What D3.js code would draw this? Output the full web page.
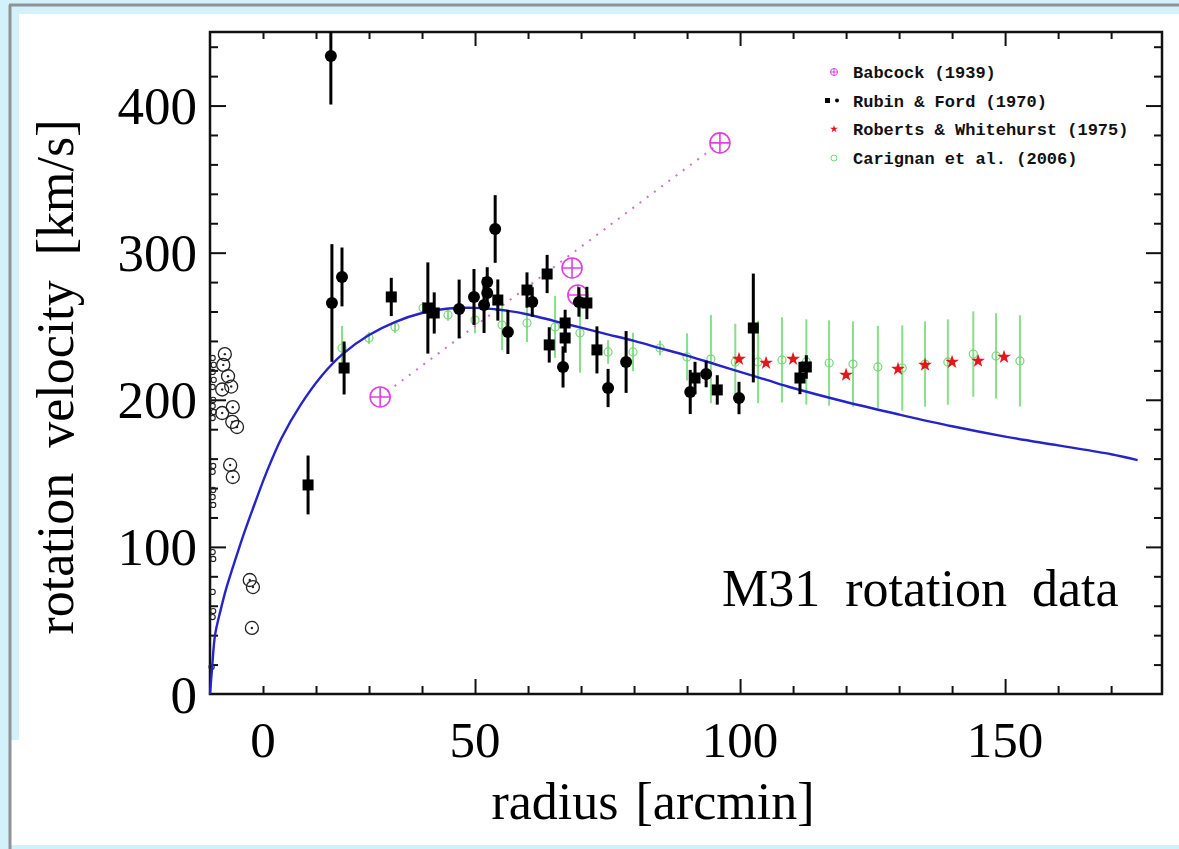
<!DOCTYPE html>
<html>
<head>
<meta charset="utf-8">
<script src="https://cdn.jsdelivr.net/npm/d3@7"></script>
<style>
  body { margin: 0; background: #d3f1fb; }
  svg { display: block; }
  .big { font-family: "Liberation Serif", "Times New Roman", serif; fill: #000; }
  .legend text { font-family: "Liberation Mono", "Courier New", monospace; font-weight: bold; font-size: 17px; fill: #111; }
</style>
</head>
<body>
<div id="chart"></div>
<script>
// radius [arcmin], velocity [km/s]
const babcock = [[32.1, 201.9], [68.3, 289.6], [69.4, 271.2], [96.2, 374.6]];

// Rubin & Ford (1970): [r, v, err]
const rubinCircles = [
  [22.8, 433.7, 33], [23.0, 265.8, 40], [24.9, 283.5, 20], [47.0, 261.7, 20],
  [49.8, 269.9, 19], [52.3, 280.1, 10], [52.3, 272.6, 10], [51.7, 264.4, 19],
  [53.8, 316.1, 23], [56.2, 246.1, 15], [60.8, 266.5, 10], [66.6, 222.3, 14],
  [69.6, 266.5, 10], [75.1, 208.0, 13], [78.5, 225.7, 21], [90.6, 205.3, 15],
  [93.6, 217.5, 9], [99.8, 201.2, 11]
];
const rubinSquares = [
  [18.5, 142.1, 20], [25.3, 221.6, 18], [34.2, 269.9, 13], [41.1, 262.4, 31],
  [42.3, 259.0, 14], [54.3, 267.8, 14], [59.8, 274.6, 12], [63.6, 285.5, 13],
  [64.0, 237.3, 12], [67.0, 252.2, 9], [67.0, 242.0, 10], [71.1, 265.8, 11],
  [73.0, 233.9, 16], [91.5, 214.8, 11], [95.7, 206.7, 10], [102.5, 248.8, 37],
  [111.3, 214.8, 11], [112.5, 222.3, 8]
];

const roberts = [
  [99.8, 227.7], [104.9, 225.0], [110.0, 227.7], [120.0, 216.9], [129.8, 220.9],
  [134.9, 223.7], [140.0, 225.7], [144.9, 226.4], [149.8, 229.1]
];

const carignan = [
  [24.9, 235.2, 15], [30.0, 242.0, 4], [34.9, 249.5, 4], [40.2, 262.4, 4],
  [44.9, 257.7, 4], [50.0, 254.2, 9], [55.1, 250.8, 17], [59.8, 252.2, 13],
  [65.1, 249.5, 21], [69.8, 245.4, 27], [75.1, 232.5, 8], [79.8, 232.5, 13],
  [84.9, 235.2, 5], [90.0, 229.1, 16], [94.5, 227.7, 30], [99.1, 225.7, 26],
  [103.4, 225.7, 28], [107.9, 227.1, 29], [112.5, 225.7, 29], [116.8, 225.0, 29],
  [121.3, 224.3, 29], [126.0, 222.3, 28], [130.6, 221.6, 29], [134.9, 224.3, 29],
  [139.2, 225.7, 29], [144.0, 231.1, 29], [148.3, 229.8, 29], [152.8, 226.4, 31]
];

// inner open circles near the centre
const innerBig = [
  [2.8, 231], [2.5, 223.7], [3.4, 216], [4.0, 209], [2.3, 207], [4.3, 195],
  [2.3, 191], [4.2, 185], [5.1, 181.5], [3.8, 155.7], [4.3, 147.5],
  [7.5, 77.5], [8.1, 72.7], [7.9, 44.9]
];
const innerSmall = [
  [0.5, 228.4], [0.7, 223.7], [0.5, 218.9], [0.7, 213.5], [0.5, 208.7], [0.6, 199.9],
  [0.5, 195.8], [0.7, 191.7], [0.5, 187.6], [0.6, 155.0], [0.5, 151.0], [0.6, 138.7],
  [0.5, 133.9], [0.6, 128.5], [0.5, 96.5], [0.6, 91.8], [0.5, 69.4], [0.6, 56.4],
  [0.5, 52.3], [0.3, 18.4]
];

// model curve
const model = [
  [0, 0], [0.4, 18], [0.95, 40], [2, 57], [3, 71], [4.3, 86], [6.3, 108],
  [8.5, 130], [10.7, 151], [13.5, 174], [17, 196], [21, 216], [25, 231], [30, 244],
  [35, 253], [40, 259], [45, 262], [50, 262.5], [55, 261], [60, 258], [65, 253.5],
  [70, 249], [75, 244.5], [80, 240], [85, 235], [90, 230], [95, 224.5], [100, 219],
  [105, 213.5], [110, 208], [120, 198.5], [130, 190], [140, 182], [150, 175],
  [160, 169], [170, 163], [175, 159]
];

const xLabels = [0, 50, 100, 150];
const yLabels = [0, 100, 200, 300, 400];
const legendItems = ["Babcock (1939)", "Rubin & Ford (1970)", "Roberts & Whitehurst (1975)", "Carignan et al. (2006)"];

const w = 1179, h = 849;
const x = d3.scaleLinear().domain([0, 179.6]).range([210, 1162]);
const y = d3.scaleLinear().domain([0, 450]).range([694, 32]);

const svg = d3.select("#chart").append("svg").attr("width", w).attr("height", h);

// page background
svg.append("rect").attr("width", w).attr("height", h).attr("fill", "#d3f1fb");
svg.append("rect").attr("x", 19).attr("y", 14).attr("width", w - 19).attr("height", 831).attr("fill", "#fff");
svg.append("rect").attr("x", 11).attr("y", 740).attr("width", 10).attr("height", 105).attr("fill", "#fff");
svg.append("path").attr("d", "M9,5H1179M10,5V849").attr("stroke", "#8e9496").attr("stroke-width", 3).attr("fill", "none");

// ticks
const xMinor = d3.range(10, 180, 10).filter(d => d % 50 !== 0);
const xMajor = [50, 100, 150];
const yMinor = d3.range(20, 450, 20).filter(d => d % 100 !== 0);
const yMajor = [100, 200, 300, 400];

function ticks(axis, values, size, transform) {
  const g = svg.append("g")
    .attr("transform", transform)
    .call(axis.tickValues(values).tickSize(size).tickFormat(""));
  g.select(".domain").remove();
  g.selectAll("line").attr("stroke", "#111").attr("stroke-width", 2);
}
ticks(d3.axisTop(x), xMinor, 8, `translate(0,${y(0)})`);
ticks(d3.axisTop(x), xMajor, 15, `translate(0,${y(0)})`);
ticks(d3.axisBottom(x), xMinor, 7, `translate(0,${y(450)})`);
ticks(d3.axisBottom(x), xMajor, 14, `translate(0,${y(450)})`);
ticks(d3.axisRight(y), yMinor, 8, `translate(${x(0)},0)`);
ticks(d3.axisRight(y), yMajor, 16, `translate(${x(0)},0)`);
ticks(d3.axisLeft(y), yMinor, 8, `translate(${x(179.6)},0)`);
ticks(d3.axisLeft(y), yMajor, 16, `translate(${x(179.6)},0)`);

// frame
svg.append("rect")
  .attr("x", x(0)).attr("y", y(450))
  .attr("width", x(179.6) - x(0)).attr("height", y(0) - y(450))
  .attr("fill", "none").attr("stroke", "#111").attr("stroke-width", 2.5);

const plot = svg.append("g");

// inner open circles
plot.selectAll(".ib").data(innerBig).enter().append("circle")
  .attr("cx", d => x(d[0])).attr("cy", d => y(d[1])).attr("r", 6.5)
  .attr("fill", "none").attr("stroke", "#222").attr("stroke-width", 1.3);
plot.selectAll(".ibd").data(innerBig).enter().append("circle")
  .attr("cx", d => x(d[0])).attr("cy", d => y(d[1])).attr("r", 1.2).attr("fill", "#222");
plot.selectAll(".is").data(innerSmall).enter().append("circle")
  .attr("cx", d => x(d[0])).attr("cy", d => y(d[1])).attr("r", 2.6)
  .attr("fill", "none").attr("stroke", "#222").attr("stroke-width", 1.1);

// Carignan
const green = "#74d874";
plot.selectAll(".cbar").data(carignan).enter().append("line")
  .attr("x1", d => x(d[0])).attr("x2", d => x(d[0]))
  .attr("y1", d => y(d[1] + d[2])).attr("y2", d => y(d[1] - d[2]))
  .attr("stroke", "#86e086").attr("stroke-width", 2);
plot.selectAll(".cpt").data(carignan).enter().append("circle")
  .attr("cx", d => x(d[0])).attr("cy", d => y(d[1])).attr("r", 4)
  .attr("fill", "none").attr("stroke", green).attr("stroke-width", 1.2);

// Babcock
const magenta = "#e040e0";
const trend = [babcock[0], babcock[babcock.length - 1]];
plot.append("path")
  .attr("d", d3.line().x(d => x(d[0])).y(d => y(d[1]))(trend))
  .attr("fill", "none").attr("stroke", "#d070d0").attr("stroke-width", 2)
  .attr("stroke-dasharray", "2,7");
const bab = plot.selectAll(".bab").data(babcock).enter().append("g")
  .attr("transform", d => `translate(${x(d[0])},${y(d[1])})`);
bab.append("circle").attr("r", 10).attr("fill", "none").attr("stroke", magenta).attr("stroke-width", 1.6);
bab.append("path").attr("d", "M-10,0H10M0,-10V10").attr("stroke", magenta).attr("stroke-width", 1.6);

// model curve
plot.append("path")
  .attr("d", d3.line().x(d => x(d[0])).y(d => y(d[1])).curve(d3.curveCatmullRom.alpha(0.5))(model))
  .attr("fill", "none").attr("stroke", "#2424c8").attr("stroke-width", 2.4);

// Rubin & Ford
const rubinAll = rubinCircles.concat(rubinSquares);
plot.selectAll(".rbar").data(rubinAll).enter().append("line")
  .attr("x1", d => x(d[0])).attr("x2", d => x(d[0]))
  .attr("y1", d => y(Math.min(450, d[1] + d[2]))).attr("y2", d => y(d[1] - d[2]))
  .attr("stroke", "#000").attr("stroke-width", 3);
plot.selectAll(".rc").data(rubinCircles).enter().append("circle")
  .attr("cx", d => x(d[0])).attr("cy", d => y(d[1])).attr("r", 6).attr("fill", "#000");
plot.selectAll(".rs").data(rubinSquares).enter().append("rect")
  .attr("x", d => x(d[0]) - 5.5).attr("y", d => y(d[1]) - 5.5)
  .attr("width", 11).attr("height", 11).attr("fill", "#000");

// Roberts & Whitehurst
const star = d3.symbol().type(d3.symbolStar).size(60);
plot.selectAll(".st").data(roberts).enter().append("path")
  .attr("d", star)
  .attr("transform", d => `translate(${x(d[0])},${y(d[1])})`)
  .attr("fill", "#e8141c");

// legend
const lg = svg.append("g").attr("class", "legend");
lg.selectAll("text").data(legendItems).enter().append("text")
  .attr("x", 853).attr("y", (d, i) => 78 + i * 28.7).text(d => d);
const m0 = lg.append("g").attr("transform", "translate(834,72)");
m0.append("circle").attr("r", 3.5).attr("fill", "none").attr("stroke", magenta).attr("stroke-width", 1);
m0.append("path").attr("d", "M-3.5,0H3.5M0,-3.5V3.5").attr("stroke", magenta).attr("stroke-width", 1);
lg.append("rect").attr("x", 825).attr("y", 98).attr("width", 5).attr("height", 5).attr("fill", "#000");
lg.append("circle").attr("cx", 837).attr("cy", 100.5).attr("r", 2).attr("fill", "#000");
lg.append("path").attr("d", d3.symbol().type(d3.symbolStar).size(18)).attr("transform", "translate(834,129)").attr("fill", "#e8141c");
lg.append("circle").attr("cx", 834).attr("cy", 158).attr("r", 3).attr("fill", "none").attr("stroke", green).attr("stroke-width", 1);

// axis labels
svg.selectAll(".ylab").data(yLabels).enter().append("text")
  .attr("class", "big")
  .attr("x", 197).attr("y", d => y(d)).attr("dy", "0.35em")
  .attr("text-anchor", "end").attr("font-size", 53)
  .text(d => d);

// the "0" label sits one minor tick to the right, clear of the y label
svg.selectAll(".xlab").data(xLabels).enter().append("text")
  .attr("class", "big")
  .attr("x", d => d === 0 ? x(10) : x(d)).attr("y", 757)
  .attr("text-anchor", "middle").attr("font-size", 51)
  .text(d => d);

svg.append("text").attr("class", "big")
  .attr("x", 653).attr("y", 819).attr("text-anchor", "middle")
  .attr("font-size", 52).attr("word-spacing", 4)
  .text("radius [arcmin]");

svg.append("text").attr("class", "big")
  .attr("transform", "translate(73,377) rotate(-90)").attr("text-anchor", "middle")
  .attr("font-size", 52).attr("word-spacing", 12)
  .text("rotation velocity [km/s]");

svg.append("text").attr("class", "big")
  .attr("x", 722).attr("y", 606)
  .attr("font-size", 52).attr("word-spacing", 12)
  .text("M31 rotation data");
</script>
</body>
</html>
